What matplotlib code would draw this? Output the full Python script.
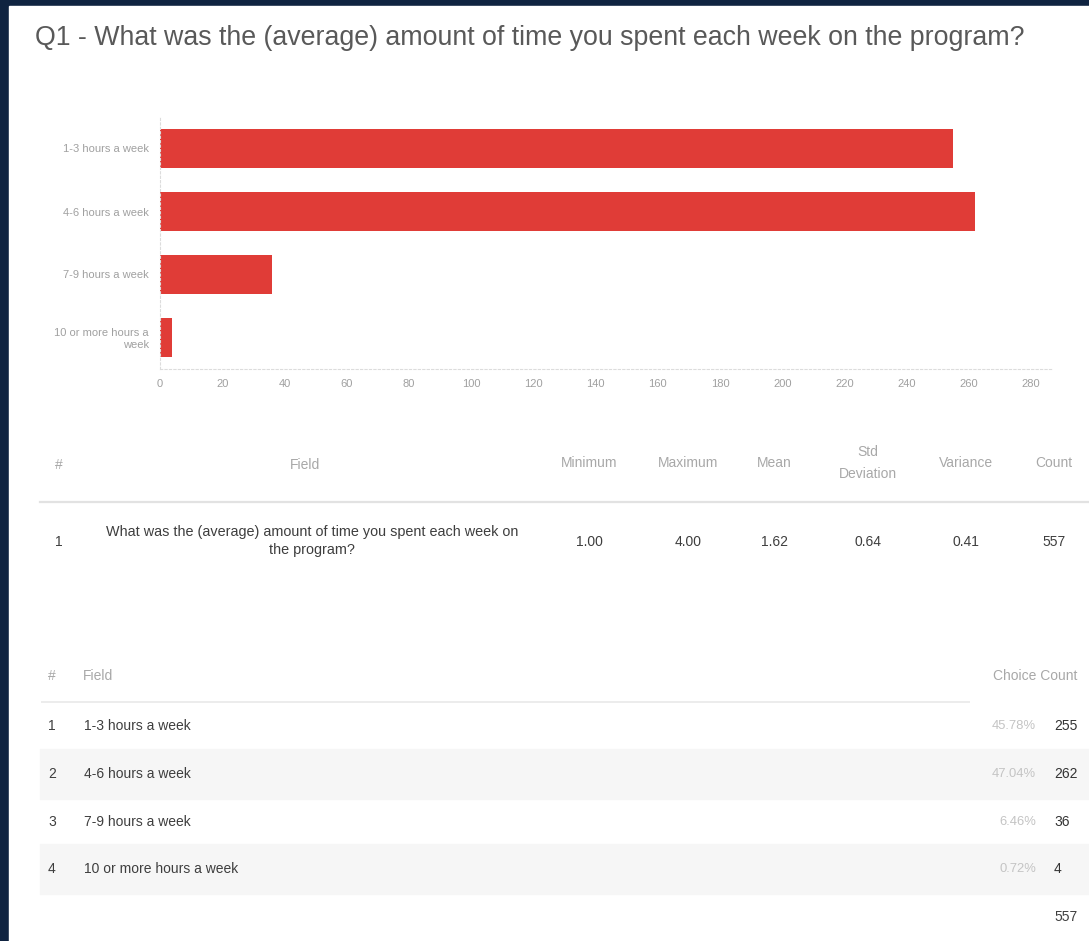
import matplotlib
matplotlib.use("Agg")
import matplotlib.pyplot as plt
from matplotlib.patches import Rectangle
from matplotlib.lines import Line2D

plt.rcParams["font.family"] = ["Liberation Sans", "DejaVu Sans"]

# ── Survey data ───────────────────────────────────────────────────────────────
title = "Q1 - What was the (average) amount of time you spent each week on the program?"
question = "What was the (average) amount of time you spent each week on\nthe program?"
choices = ["1-3 hours a week", "4-6 hours a week", "7-9 hours a week",
           "10 or more hours a week"]
axis_labels = ["1-3 hours a week", "4-6 hours a week", "7-9 hours a week",
               "10 or more hours a\nweek"]
choice_values = [1, 2, 3, 4]
counts = [255, 262, 36, 4]
x_ticks = list(range(0, 281, 20))

stat_headers = ["Minimum", "Maximum", "Mean", "Std\nDeviation", "Variance", "Count"]

# summary statistics from the response counts
n = sum(counts)
mean = sum(v * c for v, c in zip(choice_values, counts)) / n
var = sum(c * (v - mean) ** 2 for v, c in zip(choice_values, counts)) / n
stat_values = [f"{min(choice_values):.2f}", f"{max(choice_values):.2f}",
               f"{mean:.2f}", f"{var ** 0.5:.2f}", f"{var:.2f}", f"{n}"]
percents = [f"{100 * c / n:.2f}%" for c in counts]

# ── Page ──────────────────────────────────────────────────────────────────────
W, H = 1089, 941
fig = plt.figure(figsize=(W / 100, H / 100), dpi=100, facecolor="#0f2340")
fig.patches.append(Rectangle((9 / W, 0), 1 - 9 / W, 1 - 6 / H,
                             transform=fig.transFigure, color="white", zorder=-10))


def px(x, y):
    return x / W, 1 - y / H


def hline(x0, x1, y, color="#e6e6e6", lw=1.0):
    fig.add_artist(Line2D([x0 / W, x1 / W], [1 - y / H, 1 - y / H],
                          transform=fig.transFigure, color=color, lw=lw))


fig.text(*px(35, 38), title, fontsize=19.3, color="#595959", va="center", ha="left")

# ── Bar chart ─────────────────────────────────────────────────────────────────
ax = fig.add_axes([160 / W, 1 - 369 / H, (1053 - 160) / W, (369 - 117) / H])
ax.set_facecolor("none")
ax.barh(range(len(counts)), counts, height=0.62, color="#e03c37")
ax.set_ylim(len(counts) - 0.5, -0.5)
ax.set_xlim(0, 287)
ax.set_xticks(x_ticks)
ax.set_yticks(range(len(counts)))
ax.set_yticklabels(axis_labels, ha="right")
ax.tick_params(axis="y", length=0, pad=8, labelsize=8, labelcolor="#a0a0a0")
ax.tick_params(axis="x", length=0, pad=7, labelsize=8, labelcolor="#a0a0a0")
for side in ("top", "right"):
    ax.spines[side].set_visible(False)
for side in ("left", "bottom"):
    ax.spines[side].set_color("#dcdcdc")
    ax.spines[side].set_linestyle((0, (2, 2)))
    ax.spines[side].set_linewidth(0.8)

# ── Statistics table ──────────────────────────────────────────────────────────
hdr = dict(fontsize=10, color="#a8a8a8", va="center", ha="center", linespacing=1.75)
val = dict(fontsize=10, color="#3e3e3e", va="center", ha="center")
stat_x = [589, 688, 774, 868, 966, 1054]
fig.text(*px(59, 465), "#", **hdr)
fig.text(*px(305, 465), "Field", **hdr)
for x, h in zip(stat_x, stat_headers):
    fig.text(*px(x, 463), h, **hdr)
hline(40, 1089, 502, color="#e2e2e2", lw=1.6)
fig.text(*px(59, 542), "1", **val)
fig.text(*px(312, 541), question, linespacing=1.3, **dict(val, fontsize=10.4))
for x, v in zip(stat_x, stat_values):
    fig.text(*px(x, 542), v, **val)

# ── Choice count table ────────────────────────────────────────────────────────
row_y = [726, 774, 822, 869]
for i, y in enumerate(row_y):
    if i % 2 == 1:
        fig.patches.append(Rectangle(px(40, y + 25), (1089 - 40) / W, 50 / H,
                                     transform=fig.transFigure,
                                     color="#f6f6f6", zorder=-5))
fig.text(*px(52, 676), "#", **hdr)
fig.text(*px(83, 676), "Field", **dict(hdr, ha="left"))
fig.text(*px(1077, 676), "Choice Count", **dict(hdr, ha="right"))
hline(42, 969, 702, color="#ececec", lw=1.4)
for i, (y, label, pct, c) in enumerate(zip(row_y, choices, percents, counts)):
    fig.text(*px(52, y), str(i + 1), **val)
    fig.text(*px(84, y), label, **dict(val, ha="left"))
    fig.text(*px(1036, y), pct, fontsize=9.4, color="#c4c4c4", va="center", ha="right")
    fig.text(*px(1054, y), str(c), **dict(val, ha="left", color="#333333"))
fig.text(*px(1054, 917), str(n), **dict(val, ha="left"))

fig.savefig("out.png", dpi=100, facecolor=fig.get_facecolor())
